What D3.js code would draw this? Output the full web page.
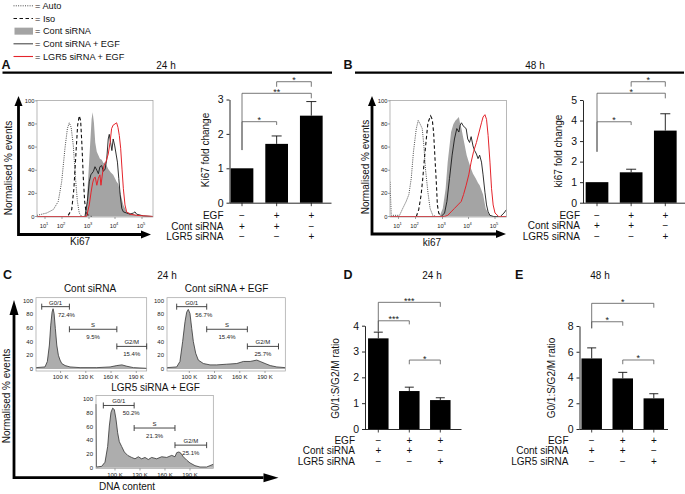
<!DOCTYPE html>
<html><head><meta charset="utf-8">
<script src="https://cdn.jsdelivr.net/npm/d3@7"></script>
<style>body{margin:0;background:#fff}svg{display:block}</style>
</head><body>
<svg id="c" width="685" height="494"></svg>
<script>
// ---------------- DATA ----------------
const legendLabels = ["= Auto", "= Iso", "= Cont siRNA", "= Cont siRNA + EGF", "= LGR5 siRNA + EGF"];
const pctTicks = [0, 20, 40, 60, 80, 100];
const decadeTicks = [1, 2, 3, 4, 5];

// Ki67 flow histograms, [log10 intensity, % of max events]
const ki67Auto24 = [[0.51,1],[1.1,3],[1.49,6],[1.78,13],[1.98,30],[2.11,59],[2.2,76],[2.27,81],[2.34,77],[2.42,61],[2.49,36],[2.57,13],[2.64,3],[2.73,0]];
const ki67Iso24 = [[2.23,1],[2.36,6],[2.44,24],[2.52,56],[2.58,79],[2.64,87],[2.69,83],[2.74,61],[2.79,33],[2.84,13],[2.89,4],[2.97,1],[3.1,0]];
const ki67Cont24 = [[2.85,0],[2.91,10],[2.97,33],[3.04,61],[3.1,84],[3.14,90],[3.19,81],[3.24,64],[3.3,56],[3.36,53],[3.42,50],[3.49,49],[3.56,46],[3.62,47],[3.74,41],[3.84,38],[3.93,36],[4.06,30],[4.12,28],[4.19,21],[4.31,10],[4.43,4],[4.56,3],[4.8,1],[5.05,0.5],[5.41,0]];
const ki67ContEgf24 = [[0.53,0],[2.85,0],[2.94,13],[3.01,30],[3.07,36],[3.17,39],[3.23,43],[3.3,40],[3.36,37],[3.42,43],[3.49,44],[3.55,39],[3.62,41],[3.68,49],[3.74,67],[3.78,71],[3.83,64],[3.88,57],[3.93,67],[3.99,61],[4.04,54],[4.09,47],[4.14,33],[4.19,19],[4.25,7],[4.31,4],[4.43,3],[4.56,2],[4.68,3],[4.74,4],[4.8,2],[5.05,0.5],[5.41,0]];
const ki67LgrEgf24 = [[0.53,0],[2.91,0],[3.01,10],[3.08,21],[3.14,29],[3.19,33],[3.24,34],[3.3,27],[3.36,33],[3.42,36],[3.46,27],[3.53,39],[3.58,44],[3.65,47],[3.74,54],[3.81,64],[3.87,76],[3.93,79],[4.0,80],[4.06,81],[4.11,77],[4.16,70],[4.21,59],[4.26,41],[4.31,24],[4.37,10],[4.43,4],[4.56,2],[4.8,1],[5.41,0]];

const ki67Auto48 = [[0.53,30],[0.6,1],[1.06,1],[1.25,7],[1.45,13],[1.61,19],[1.75,33],[1.88,56],[2.03,76],[2.1,83],[2.17,80],[2.25,76],[2.31,61],[2.37,41],[2.46,21],[2.54,7],[2.64,1],[2.77,0]];
const ki67Iso48 = [[2.03,0],[2.12,6],[2.21,19],[2.27,33],[2.33,50],[2.4,67],[2.46,81],[2.56,87],[2.62,84],[2.67,73],[2.715,53],[2.77,30],[2.81,10],[2.86,3],[2.95,0]];
const ki67Cont48 = [[2.89,0],[3.01,7],[3.12,24],[3.2,47],[3.27,61],[3.33,73],[3.42,80],[3.5,83],[3.55,84],[3.63,86],[3.68,80],[3.73,76],[3.78,70],[3.86,61],[3.93,53],[4.01,47],[4.1,41],[4.17,37],[4.27,33],[4.36,29],[4.42,27],[4.55,19],[4.65,7],[4.74,3],[4.81,1],[5.07,0],[5.41,0]];
const ki67ContEgf48 = [[2.95,0],[3.08,3],[3.17,13],[3.27,33],[3.37,53],[3.46,67],[3.55,76],[3.63,73],[3.68,79],[3.73,81],[3.78,79],[3.85,77],[3.91,76],[3.97,67],[4.04,64],[4.1,69],[4.17,61],[4.23,57],[4.3,54],[4.36,50],[4.42,53],[4.49,47],[4.55,36],[4.62,21],[4.68,10],[4.74,4],[4.81,1],[4.93,0],[5.19,0],[5.32,3],[5.41,6]];
const ki67LgrEgf48 = [[0.53,0],[3.08,0],[3.2,1],[3.33,4],[3.46,7],[3.59,10],[3.72,13],[3.81,19],[3.91,27],[4.01,36],[4.1,47],[4.19,56],[4.3,64],[4.4,73],[4.49,81],[4.55,86],[4.62,88],[4.68,84],[4.74,70],[4.81,47],[4.87,24],[4.93,10],[5.0,3],[5.13,0],[5.41,0]];

// Bar charts
const conditionRows = ["EGF", "Cont siRNA", "LGR5 siRNA"];
const conditionSigns = [["\u2212","+","+"],["+","+","\u2212"],["\u2212","\u2212","+"]];
const ki67Fold24 = [1.0, 1.71, 2.53];
const ki67Err24 = [0, 0.23, 0.41];
const ki67Ticks24 = [0, 1, 2, 3];
const ki67Fold48 = [1.0, 1.48, 3.51];
const ki67Err48 = [0, 0.15, 0.82];
const ki67Ticks48 = [0, 1, 2, 3, 4, 5];
const ratio24 = [3.51, 1.47, 1.12];
const ratioErr24 = [0.24, 0.15, 0.09];
const ratioTicks24 = [0, 1, 2, 3, 4];
const ratio48 = [5.48, 3.93, 2.38];
const ratioErr48 = [0.82, 0.47, 0.36];
const ratioTicks48 = [0, 2, 4, 6, 8];
const sigKi24 = [[0,1,"*"],[0,2,"**"],[1,2,"*"]];
const sigKi48 = [[0,1,"*"],[0,2,"*"],[1,2,"*"]];
const sigRatio24 = [[0,2,"***"],[0,1,"***"],[1,2,"*"]];
const sigRatio48 = [[0,2,"*"],[0,1,"*"],[1,2,"*"]];

// DNA content histograms, [channel (K), % of max events]
const dnaTicks = [100, 130, 160, 190];
const dnaCont = [[70.8,2],[81.5,3],[84.3,11],[86.7,35],[88.3,64],[89.9,83],[91.1,88],[92.3,81],[93.8,59],[95.5,35],[97.4,20],[99.4,13],[101.4,8],[105.4,5],[111.3,3],[123.2,2],[143.1,2],[158.9,3],[166.9,5],[172.9,6],[178.8,4],[186.7,2],[202.6,1]];
const dnaContEgf = [[73.5,2],[85,3],[88.9,11],[92.1,40],[94.9,69],[96.9,83],[98.8,87],[100.8,81],[102.9,59],[104.8,40],[107.6,23],[110.7,13],[116.7,8],[124.6,6],[132.6,6],[144.5,7],[156.4,8],[164.3,11],[172.3,11],[180.2,13],[184.2,11],[190.1,8],[196.2,5],[204,3],[214,2]];
const dnaLgrEgf = [[77.2,93],[77.8,1],[84,2],[88,8],[91.2,31],[93.2,61],[95.2,81],[97.2,87],[99.2,85],[101.2,71],[103.2,51],[105.2,38],[108,31],[111.2,23],[115.2,18],[120,15],[124,13],[128,16],[132,13],[136,15],[140,12],[144,15],[150,13],[156.1,16],[162.1,15],[168.1,18],[172,16],[174.1,22],[176.8,23],[179.2,21],[182,16],[186.1,11],[190,7],[196,3],[202,1],[210,1],[214,3],[218,5]];
const gateNames = ["G0/1", "S", "G2/M"];
const gatesCont = [[77.6,110.5],[110.5,166.9],[166.9,202.4]];
const gatePctCont = ["72.4%", "9.5%", "15.4%"];
const gatesContEgf = [[85,120.7],[120.7,169],[169,206]];
const gatePctContEgf = ["56.7%", "15.4%", "25.7%"];
const gatesLgrEgf = [[86,123],[123,172],[172,210]];
const gatePctLgrEgf = ["50.2%", "21.3%", "25.1%"];

// ---------------- DRAWING ----------------
const FONT = "'Liberation Sans', Arial, Helvetica, sans-serif";
const svg = d3.select("#c").attr("font-family", FONT);

function txt(g, x, y, s, size, anchor, opts) {
  const t = g.append("text").attr("x", x).attr("y", y).attr("font-size", size)
    .attr("text-anchor", anchor || "start").attr("fill", (opts && opts.fill) || "#111").text(s);
  if (opts && opts.bold) t.attr("font-weight", "bold");
  if (opts && opts.rotate) t.attr("transform", `rotate(-90 ${x} ${y})`);
  return t;
}

// Legend
const legendG = svg.append("g");
const legendY = d3.scalePoint().domain(legendLabels).range([5.8, 56.5]);
const legendStyles = [
  {type:"line", stroke:"#333", w:0.9, dash:"1,1.3"},
  {type:"line", stroke:"#111", w:1.1, dash:"3.5,2.5"},
  {type:"rect", fill:"#a4a4a4"},
  {type:"line", stroke:"#222", w:0.9},
  {type:"line", stroke:"#e4242b", w:1.1}
];
legendLabels.forEach((lab, i) => {
  const yy = legendY(lab), st = legendStyles[i];
  if (st.type === "rect") {
    legendG.append("rect").attr("x", 14.5).attr("y", yy - 3.5).attr("width", 18.5).attr("height", 7).attr("fill", st.fill);
  } else {
    legendG.append("line").attr("x1", 13.5).attr("x2", 33).attr("y1", yy).attr("y2", yy)
      .attr("stroke", st.stroke).attr("stroke-width", st.w).attr("stroke-dasharray", st.dash || null);
  }
  txt(legendG, 35, yy + 3.3, lab, 9.2, "start");
});

// Panel headers
function header(letter, lx, ly, sub, sx, line) {
  const g = svg.append("g");
  txt(g, lx, ly, letter, 12.5, "start", {bold:true});
  txt(g, sx, ly, sub, 10, "middle");
  if (line) g.append("line").attr("x1", line[0]).attr("x2", line[1]).attr("y1", line[2]).attr("y2", line[2])
    .attr("stroke", "#000").attr("stroke-width", 2.4);
}
header("A", 1.5, 68.5, "24 h", 166, [2.5, 332, 72.6]);
header("B", 343.5, 68.5, "48 h", 535, [355, 684, 72.6]);
header("C", 3, 279, "24 h", 167, null);
header("D", 343.5, 279, "24 h", 432, null);
header("E", 515, 279, "48 h", 600, null);

// Arrow axes (L shaped)
function arrowAxes(x0, y0, topY, rightX, hl, hw, sw) {
  const g = svg.append("g");
  g.append("path").attr("d", `M${x0},${topY + hl}V${y0}H${rightX - hl}`)
    .attr("fill", "none").attr("stroke", "#000").attr("stroke-width", sw).attr("stroke-linejoin", "miter");
  g.append("path").attr("d", `M${x0 - hw/2},${topY + hl}L${x0},${topY}L${x0 + hw/2},${topY + hl}Z`).attr("fill", "#000");
  g.append("path").attr("d", `M${rightX - hl},${y0 - hw/2}L${rightX},${y0}L${rightX - hl},${y0 + hw/2}Z`).attr("fill", "#000");
}

// Flow cytometry histogram panel
const flowDomain = [0.53, 1, 2, 3, 4, 5, 5.41];
let clipId = 0;
function flowPanel(o) {
  const g = svg.append("g");
  const x = d3.scaleLinear().domain(flowDomain).range(o.xr).clamp(true);
  const y = d3.scaleLinear().domain([0, 100]).range([o.y0, o.y100]);
  const bx0 = o.xr[0], bx1 = o.xr[o.xr.length - 1];
  const id = "clip" + (clipId++);
  g.append("clipPath").attr("id", id).append("rect")
    .attr("x", bx0).attr("y", o.by0).attr("width", bx1 - bx0).attr("height", o.by1 - o.by0);
  const area = d3.area().x(d => x(d[0])).y0(y(0)).y1(d => y(d[1]));
  const line = d3.line().x(d => x(d[0])).y(d => y(d[1]));
  const cg = g.append("g").attr("clip-path", `url(#${id})`);
  cg.append("path").attr("d", area(o.cont)).attr("fill", "#a4a4a4");
  cg.append("path").attr("d", line(o.auto)).attr("fill", "none").attr("stroke", "#333").attr("stroke-width", 0.9).attr("stroke-dasharray", "1,1.2");
  cg.append("path").attr("d", line(o.iso)).attr("fill", "none").attr("stroke", "#111").attr("stroke-width", 1.1).attr("stroke-dasharray", "3.5,2.5");
  cg.append("path").attr("d", line(o.contEgf)).attr("fill", "none").attr("stroke", "#1a1a1a").attr("stroke-width", 0.9);
  cg.append("path").attr("d", line(o.lgrEgf)).attr("fill", "none").attr("stroke", "#e4242b").attr("stroke-width", 1.0);
  g.append("rect").attr("x", bx0).attr("y", o.by0).attr("width", bx1 - bx0).attr("height", o.by1 - o.by0)
    .attr("fill", "none").attr("stroke", "#9a9a9a").attr("stroke-width", 0.7);
  pctTicks.forEach(v => {
    g.append("line").attr("x1", bx0 - 2).attr("x2", bx0).attr("y1", y(v)).attr("y2", y(v)).attr("stroke", "#666").attr("stroke-width", 0.6);
    txt(g, bx0 - 2.5, y(v) + 2, String(v), 5.8, "end", {fill:"#222"});
  });
  decadeTicks.forEach(v => {
    g.append("line").attr("x1", x(v)).attr("x2", x(v)).attr("y1", o.by1).attr("y2", o.by1 + 2).attr("stroke", "#666").attr("stroke-width", 0.6);
    const t = txt(g, x(v) - 1, o.by1 + 11, "10", 5.8, "middle", {fill:"#222"});
    t.append("tspan").attr("dy", -2.6).attr("font-size", 4).text(String(v));
  });
  arrowAxes(o.ax, o.ay, o.atop, o.aright, 10, 8, 2.8);
  txt(g, o.ylabX, o.ylabY, "Normalised % events", 10, "middle", {rotate:true});
  txt(g, o.xlabX, o.xlabY, o.xlab, 10, "middle");
}

flowPanel({xr:[37,45,62,89,115,142,153], y0:216.5, y100:100.8, by0:100.5, by1:217,
  auto:ki67Auto24, iso:ki67Iso24, cont:ki67Cont24, contEgf:ki67ContEgf24, lgrEgf:ki67LgrEgf24,
  ax:18.5, ay:234.5, atop:96, aright:151, ylabX:11.8, ylabY:168, xlabX:80, xlabY:245, xlab:"Ki67"});
flowPanel({xr:[390,398.5,415.5,442.5,468.5,495,506.5], y0:216.5, y100:100.8, by0:100.5, by1:217,
  auto:ki67Auto48, iso:ki67Iso48, cont:ki67Cont48, contEgf:ki67ContEgf48, lgrEgf:ki67LgrEgf48,
  ax:372, ay:234, atop:96, aright:506, ylabX:368.5, ylabY:167, xlabX:432, xlabY:246, xlab:"ki67"});

// Bar chart panel
function barPanel(o) {
  const g = svg.append("g");
  const n = o.values.length;
  const y = d3.scaleLinear().domain([0, d3.max(o.ticks)]).range([o.yBase, o.yTop]);
  const x = d3.scaleBand().domain(d3.range(n))
    .range([o.c0 - o.step / 2, o.c0 + (n - 0.5) * o.step])
    .paddingInner(1 - o.barW / o.step).paddingOuter((1 - o.barW / o.step) / 2);
  const cx = i => x(i) + x.bandwidth() / 2;
  const ya = d3.axisLeft(y).tickValues(o.ticks).tickFormat(d3.format("d")).tickSize(3).tickSizeOuter(0).tickPadding(3);
  g.append("g").attr("transform", `translate(${o.axisX},0)`).call(ya)
    .call(s => s.selectAll("text").attr("font-size", 10.5).attr("font-family", FONT).attr("fill", "#111"))
    .call(s => s.selectAll("line,path").attr("stroke", "#111").attr("stroke-width", 0.9));
  g.append("line").attr("x1", o.axisX).attr("x2", o.axisEnd).attr("y1", y(0) + 0.5).attr("y2", y(0) + 0.5)
    .attr("stroke", "#111").attr("stroke-width", 0.9);
  d3.range(n).forEach(i => g.append("line").attr("x1", cx(i)).attr("x2", cx(i)).attr("y1", y(0)).attr("y2", y(0) + 3.5)
    .attr("stroke", "#111").attr("stroke-width", 0.8));
  g.selectAll("rect.bar").data(o.values).join("rect").attr("class", "bar")
    .attr("x", (d, i) => x(i)).attr("y", d => y(d)).attr("width", x.bandwidth()).attr("height", d => y(0) - y(d)).attr("fill", "#000");
  o.errs.forEach((e, i) => {
    if (!e) return;
    const top = y(o.values[i] + e);
    g.append("line").attr("x1", cx(i)).attr("x2", cx(i)).attr("y1", y(o.values[i])).attr("y2", top).attr("stroke", "#111").attr("stroke-width", 0.9);
    g.append("line").attr("x1", cx(i) - o.capW / 2).attr("x2", cx(i) + o.capW / 2).attr("y1", top).attr("y2", top).attr("stroke", "#111").attr("stroke-width", 0.9);
  });
  o.sigs.forEach((s, k) => {
    const b = o.brackets[k];
    const ly = y(b[0]);
    const x1 = cx(s[0]), x2 = cx(s[1]);
    g.append("path").attr("d", `M${x1},${y(b[1])}V${ly}H${x2}V${y(b[2])}`)
      .attr("fill", "none").attr("stroke", "#555").attr("stroke-width", 0.8);
    txt(g, (x1 + x2) / 2, ly + 1.5, s[2], 9, "middle", {fill:"#222"});
  });
  conditionRows.forEach((r, ri) => {
    const yy = o.rowY[ri];
    txt(g, o.rowLabelX, yy, r, 10, "end");
    conditionSigns[ri].forEach((sg, i) => txt(g, cx(i), yy, sg, 10, "middle"));
  });
  txt(g, o.ylabX, o.ylabY, o.ylab, 10, "middle", {rotate:true});
}

barPanel({values:ki67Fold24, errs:ki67Err24, ticks:ki67Ticks24, sigs:sigKi24,
  brackets:[[2.355,1.53,2.26],[3.18,1.53,3.035],[3.517,3.37,3.37]],
  yBase:202.7, yTop:99.5, c0:242, step:34.65, barW:22.7, capW:10, axisX:229.5, axisEnd:331.5,
  rowY:[218.5,229.5,240.2], rowLabelX:223.5, ylab:"Ki67 fold change", ylabX:208.5, ylabY:150});
barPanel({values:ki67Fold48, errs:ki67Err48, ticks:ki67Ticks48, sigs:sigKi48,
  brackets:[[3.94,2.48,3.78],[5.33,2.48,5.08],[5.89,5.65,5.65]],
  yBase:202.7, yTop:100, c0:597, step:34.15, barW:22.7, capW:10, axisX:583, axisEnd:685,
  rowY:[218.5,229.2,240.2], rowLabelX:580, ylab:"ki67 fold change", ylabX:561.5, ylabY:151});
barPanel({values:ratio24, errs:ratioErr24, ticks:ratioTicks24, sigs:sigRatio24,
  brackets:[[4.905,3.77,4.73],[4.19,3.77,4.05],[2.67,2.505,2.505]],
  yBase:429, yTop:325.7, c0:378.3, step:31, barW:20.5, capW:9, axisX:365, axisEnd:461.5,
  rowY:[443.5,454.2,465.2], rowLabelX:355, ylab:"G0/1:S/G2/M ratio", ylabX:338.5, ylabY:378.5});
barPanel({values:ratio48, errs:ratioErr48, ticks:ratioTicks48, sigs:sigRatio48,
  brackets:[[9.76,7.82,9.42],[8.33,7.82,8.02],[5.36,5.03,5.03]],
  yBase:429, yTop:326, c0:591.7, step:31.05, barW:20.5, capW:9, axisX:579.5, axisEnd:668,
  rowY:[443.5,454.2,465.2], rowLabelX:568.5, ylab:"G0/1:S/G2/M ratio", ylabX:555, ylabY:378});

// DNA content panels
const gateLevels = [91, 58, 33];
function dnaPanel(o) {
  const g = svg.append("g");
  const x = d3.scaleLinear().domain(o.dom).range([o.bx0, o.bx1]).clamp(true);
  const y = d3.scaleLinear().domain([0, 100]).range([o.y0, o.y100]);
  const area = d3.area().x(d => x(d[0])).y0(y(0)).y1(d => y(d[1]));
  const line = d3.line().x(d => x(d[0])).y(d => y(d[1]));
  g.append("path").attr("d", area(o.data)).attr("fill", "#adadad");
  g.append("path").attr("d", line(o.data)).attr("fill", "none").attr("stroke", "#333").attr("stroke-width", 0.8);
  g.append("rect").attr("x", o.bx0).attr("y", o.by0).attr("width", o.bx1 - o.bx0).attr("height", o.by1 - o.by0)
    .attr("fill", "none").attr("stroke", "#a0a0a0").attr("stroke-width", 0.7);
  pctTicks.forEach(v => txt(g, o.bx0 - 3, y(v) + 2, String(v), 6, "end", {fill:"#222"}));
  dnaTicks.forEach(v => {
    g.append("line").attr("x1", x(v)).attr("x2", x(v)).attr("y1", o.by1).attr("y2", o.by1 + 2).attr("stroke", "#666").attr("stroke-width", 0.6);
    txt(g, x(v), o.by1 + 8, v + " K", 6, "middle", {fill:"#222"});
  });
  o.gates.forEach((gt, i) => {
    const gy = y(gateLevels[i]), a = x(gt[0]), b = x(gt[1]);
    g.append("path").attr("d", `M${a},${gy - 3}V${gy + 3}M${a},${gy}H${b}M${b},${gy - 3}V${gy + 3}`)
      .attr("fill", "none").attr("stroke", "#333").attr("stroke-width", 0.9);
    txt(g, (a + b) / 2, gy - 2, gateNames[i], 6, "middle", {fill:"#222"});
    const px = i === 0 ? b - 3 : (a + b) / 2;
    txt(g, px, gy + 10, o.pcts[i], 6, "middle", {fill:"#222"});
  });
  txt(g, o.titleX, o.titleY, o.title, 10, "middle");
}
dnaPanel({data:dnaCont, dom:[70.8,202.4], bx0:36, bx1:146.7, by0:297.7, by1:371, y0:369, y100:300.5,
  gates:gatesCont, pcts:gatePctCont, title:"Cont siRNA", titleX:90, titleY:292});
dnaPanel({data:dnaContEgf, dom:[73.5,214.1], bx0:167, bx1:285.3, by0:297.7, by1:371, y0:369, y100:300.5,
  gates:gatesContEgf, pcts:gatePctContEgf, title:"Cont siRNA + EGF", titleX:226.5, titleY:292});
dnaPanel({data:dnaLgrEgf, dom:[77.2,218], bx0:96, bx1:213.3, by0:395.5, by1:468.5, y0:467.7, y100:399.3,
  gates:gatesLgrEgf, pcts:gatePctLgrEgf, title:"LGR5 siRNA + EGF", titleX:155.5, titleY:391});
arrowAxes(14, 477.7, 300, 278.5, 15, 9, 2.8);
txt(svg, 9.5, 396, "Normalised % events", 10, "middle", {rotate:true});
txt(svg, 127, 490, "DNA content", 10, "middle");
</script>
</body></html>
